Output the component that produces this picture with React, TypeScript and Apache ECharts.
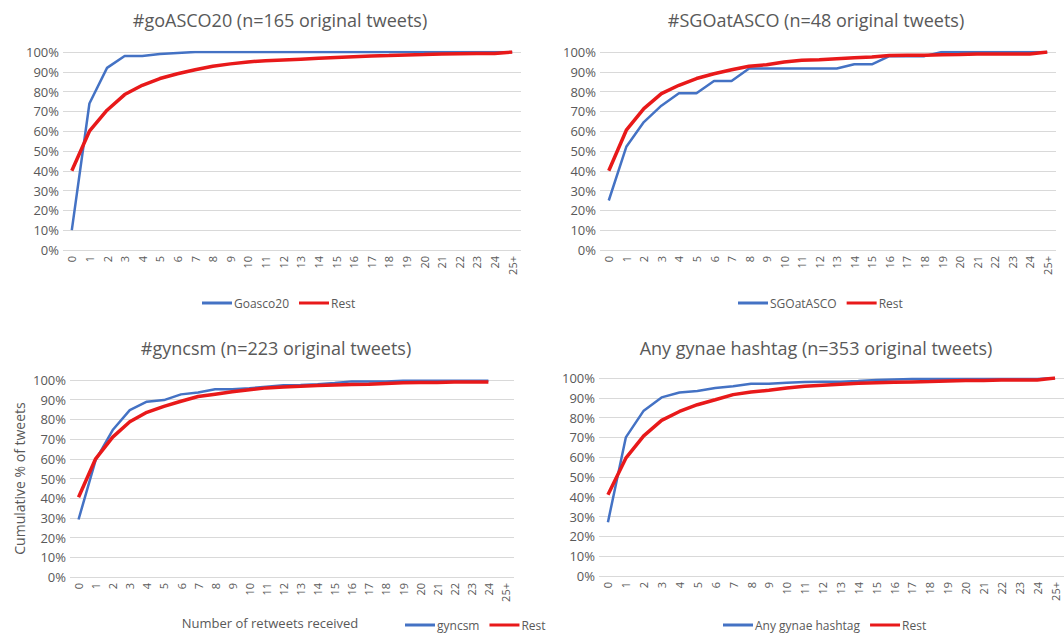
import React, { useEffect, useRef } from "react";
import * as echarts from "echarts";

const categories = ["0","1","2","3","4","5","6","7","8","9","10","11","12","13","14","15","16","17","18","19","20","21","22","23","24","25+"];
const yTicks = [0, 10, 20, 30, 40, 50, 60, 70, 80, 90, 100];

const titles = [
  "#goASCO20 (n=165 original tweets)",
  "#SGOatASCO (n=48 original tweets)",
  "#gyncsm (n=223 original tweets)",
  "Any gynae hashtag (n=353 original tweets)",
];
const hashtagNames = ["Goasco20", "SGOatASCO", "gyncsm", "Any gynae hashtag"];
const restName = "Rest";

const goasco20 = [10, 74, 92, 98, 98, 99, 99.5, 100, 100, 100, 100, 100, 100, 100, 100, 100, 100, 100, 100, 100, 100, 100, 100, 100, 100, 100];
const goascoRest = [40, 60, 70.6, 78.5, 83.2, 86.6, 89, 91, 92.8, 94, 95, 95.6, 96, 96.4, 96.8, 97.2, 97.6, 98, 98.2, 98.5, 98.7, 99, 99.1, 99.2, 99.3, 100];

const sgoatasco = [25, 52.1, 64.6, 72.9, 79.2, 79.2, 85.4, 85.4, 91.7, 91.7, 91.7, 91.7, 91.7, 91.7, 93.8, 93.8, 97.9, 97.9, 97.9, 100, 100, 100, 100, 100, 100, 100];
const sgoRest = [40, 60.5, 71.4, 79, 83.2, 86.6, 89, 91, 92.8, 93.6, 95, 95.8, 96.1, 96.6, 97.1, 97.5, 98.2, 98.3, 98.3, 98.6, 98.7, 99, 99, 99, 99, 100];

const gyncsm = [29.2, 59.3, 74.6, 84.7, 89, 89.8, 92.7, 93.7, 95.3, 95.3, 95.8, 96.6, 97.3, 97.4, 97.8, 98.5, 99.3, 99.3, 99.3, 99.6, 99.6, 99.6, 99.6, 99.6, 99.6, null];
const gyncsmRest = [40.5, 60, 71, 78.8, 83.6, 86.6, 89.2, 91.6, 92.8, 94, 95.1, 96, 96.5, 96.8, 97.2, 97.5, 97.7, 97.8, 98.2, 98.6, 98.7, 98.7, 99, 99, 99, null];

const anyGynae = [27.2, 70, 83.5, 90.2, 92.7, 93.4, 94.9, 95.8, 97.1, 97.1, 97.6, 98, 98.1, 98.1, 98.5, 99, 99.3, 99.5, 99.5, 99.5, 99.5, 99.5, 99.5, 99.5, 99.5, 100];
const anyRest = [41, 59.5, 70.8, 78.6, 83.1, 86.5, 89, 91.6, 92.9, 93.8, 94.9, 95.8, 96.3, 96.8, 97.3, 97.6, 97.8, 98, 98.2, 98.5, 98.7, 98.8, 99, 99, 99, 100];

const hashtagSeries = [goasco20, sgoatasco, gyncsm, anyGynae];
const restSeries = [goascoRest, sgoRest, gyncsmRest, anyRest];

const FONT = "'Open Sans', 'Liberation Sans', sans-serif";
const TEXT = "#595959";
const BLUE = "#4472C4";
const RED = "#E8191A";
const GRID = "#D9D9D9";

const grids = [
  { left: 63, right: 543, top: 52, bottom: 385 },
  { left: 600, right: 8, top: 52, bottom: 385 },
  { left: 70, right: 550, top: 380, bottom: 58 },
  { left: 599, right: -12, top: 378, bottom: 59 },
];
const titlePos = [
  [280, 20],
  [816, 20],
  [276, 348],
  [816, 348],
];
const legendPos = [
  [197, 292],
  [733, 292],
  [400, 614],
  [718, 614],
];

export default function App() {
  const ref = useRef<HTMLDivElement>(null);
  useEffect(() => {
    document.body.style.margin = "0";
    if (!ref.current) return;
    const chart = echarts.init(ref.current, undefined, { renderer: "svg" });
    const series: any[] = [];
    hashtagSeries.forEach((d, i) => {
      series.push({
        type: "line",
        name: hashtagNames[i],
        xAxisIndex: i,
        yAxisIndex: i,
        data: d,
        showSymbol: false,
        symbol: "none",
        lineStyle: { color: BLUE, width: 2.5 },
        itemStyle: { color: BLUE },
        z: 3,
      });
      series.push({
        type: "line",
        name: restName,
        xAxisIndex: i,
        yAxisIndex: i,
        data: restSeries[i],
        showSymbol: false,
        symbol: "none",
        lineStyle: { color: RED, width: 3.5 },
        itemStyle: { color: RED },
        z: 4,
      });
    });
    const option: any = {
      animation: false,
      textStyle: { fontFamily: FONT },
      grid: grids,
      xAxis: grids.map((_, i) => ({
        type: "category",
        gridIndex: i,
        data: categories,
        boundaryGap: true,
        axisLine: { show: false },
        axisTick: { show: false },
        axisLabel: { rotate: 90, interval: 0, fontSize: 11, color: TEXT, fontFamily: FONT, margin: 6 },
      })),
      yAxis: grids.map((_, i) => ({
        type: "value",
        gridIndex: i,
        min: yTicks[0],
        max: yTicks[yTicks.length - 1],
        interval: 10,
        axisLine: { show: false },
        axisTick: { show: false },
        splitLine: { lineStyle: { color: GRID, width: 1 } },
        axisLabel: { formatter: "{value}%", fontSize: 13, color: TEXT, fontFamily: FONT, margin: 4 },
        ...(i === 2
          ? {
              name: "Cumulative % of tweets",
              nameLocation: "middle",
              nameRotate: 90,
              nameGap: 44,
              nameTextStyle: { fontSize: 14, color: TEXT, fontFamily: FONT },
            }
          : {}),
      })),
      legend: legendPos.map((p, i) => ({
        data: [hashtagNames[i], restName],
        left: p[0],
        top: p[1],
        icon: "rect",
        itemWidth: 30,
        itemHeight: 3,
        itemGap: 10,
        selectedMode: false,
        textStyle: { fontSize: 12, color: TEXT, fontFamily: FONT, padding: [0, 0, 0, -3] },
      })),
      graphic: [
        ...titles.map((t, i) => ({
          type: "text",
          x: titlePos[i][0],
          y: titlePos[i][1],
          style: {
            text: t,
            font: `18px ${FONT}`,
            fill: TEXT,
            align: "center",
            verticalAlign: "middle",
            textAlign: "center",
            textVerticalAlign: "middle",
          },
        })),
        {
          type: "text",
          x: 270,
          y: 623,
          style: {
            text: "Number of retweets received",
            font: `13px ${FONT}`,
            fill: TEXT,
            align: "center",
            verticalAlign: "middle",
            textAlign: "center",
            textVerticalAlign: "middle",
          },
        },
      ],
      series,
    };
    chart.setOption(option);
    return () => chart.dispose();
  }, []);
  return <div ref={ref} style={{ width: 1064, height: 635 }} />;
}
